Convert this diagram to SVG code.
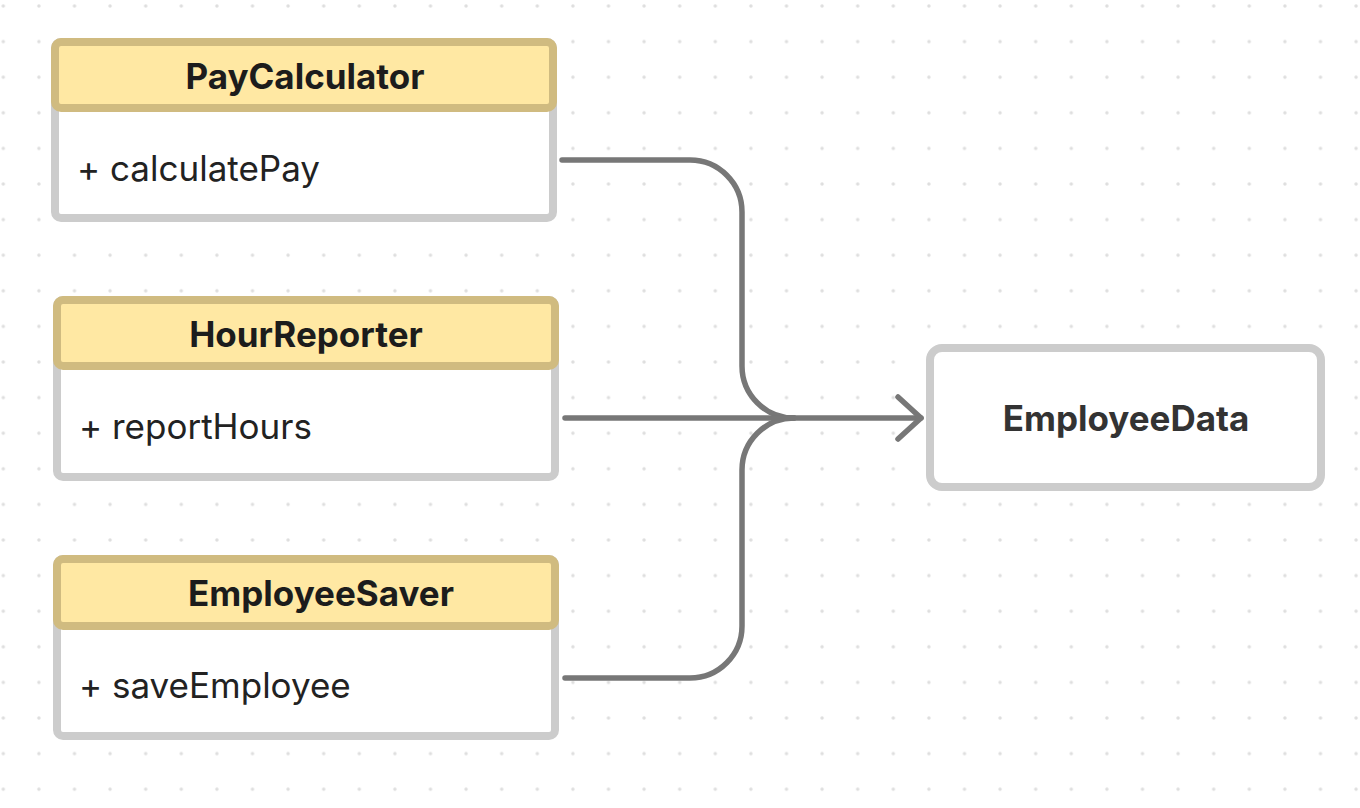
<svg xmlns="http://www.w3.org/2000/svg" width="1360" height="808" viewBox="0 0 1360 808">
<defs>
<pattern id="dots" x="3.3" y="6" width="35.6" height="35.6" patternUnits="userSpaceOnUse">
<circle cx="0" cy="0" r="1.7" fill="#dedede"/>
<circle cx="35.6" cy="0" r="1.7" fill="#dedede"/>
<circle cx="0" cy="35.6" r="1.7" fill="#dedede"/>
<circle cx="35.6" cy="35.6" r="1.7" fill="#dedede"/>
</pattern>
<marker id="arrow" viewBox="0 0 30 50" refX="26" refY="25" markerWidth="30" markerHeight="50" markerUnits="userSpaceOnUse" orient="auto">
<path d="M3,4 L26,25 L3,46" fill="none" stroke="#777" stroke-width="5.5" stroke-linecap="round" stroke-linejoin="round"/>
</marker>
<style>
.body{fill:#fff;stroke:#cccccc;stroke-width:8}
.head{fill:#ffe8a3;stroke:#d0bb80;stroke-width:8}
.title{font-family:Inter,"Liberation Sans",sans-serif;font-weight:700;font-size:35px;fill:#1c1c1c;text-anchor:middle}
.member{font-family:Inter,"Liberation Sans",sans-serif;font-weight:400;font-size:35px;fill:#222}
.edge{fill:none;stroke:#777;stroke-width:5.5;stroke-linecap:round}
</style>
</defs>
<rect width="1360" height="808" fill="#fff"/>
<rect width="1360" height="808" fill="url(#dots)"/>
<g id="PayCalculator">
<rect class="body" x="55" y="42" width="498" height="176" rx="6"/>
<rect class="head" x="55" y="42" width="498" height="66" rx="6"/>
<text class="title" x="305" y="89">PayCalculator</text>
<text class="member" x="77" y="181">+ calculatePay</text>
</g>
<g id="HourReporter">
<rect class="body" x="57" y="300" width="498" height="177" rx="6"/>
<rect class="head" x="57" y="300" width="498" height="66" rx="6"/>
<text class="title" x="306" y="347">HourReporter</text>
<text class="member" x="79" y="439">+ reportHours</text>
</g>
<g id="EmployeeSaver">
<rect class="body" x="57" y="559" width="498" height="177" rx="6"/>
<rect class="head" x="57" y="559" width="498" height="67" rx="6"/>
<text class="title" x="321" y="606">EmployeeSaver</text>
<text class="member" x="79" y="698">+ saveEmployee</text>
</g>
<g id="EmployeeData">
<rect x="930" y="348" width="391" height="139" rx="12" fill="#fff" stroke="#cccccc" stroke-width="8"/>
<text class="title" x="1126" y="431" style="fill:#333">EmployeeData</text>
</g>
<g id="connectors">
<path class="edge" d="M562,160 H690 A52,52 0 0 1 742,212 V366 A52,52 0 0 0 794,418"/>
<path class="edge" d="M565,678 H690 A52,52 0 0 0 742,626 V470 A52,52 0 0 1 794,418"/>
<path class="edge" d="M565,418 H921" marker-end="url(#arrow)"/>
</g>
</svg>
